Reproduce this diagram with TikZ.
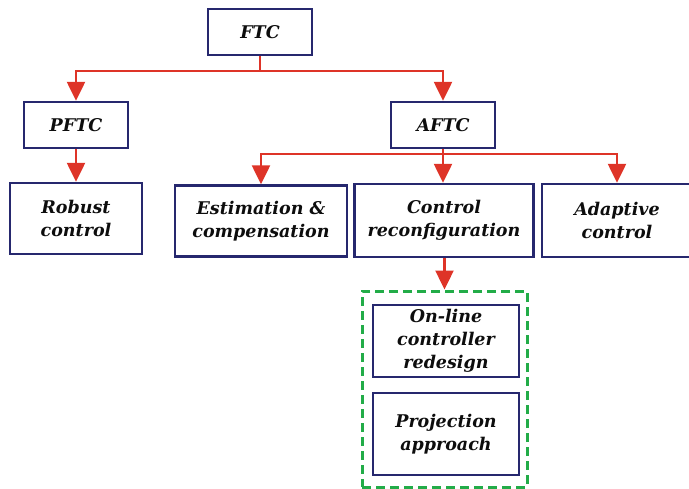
\documentclass[tikz,border=0pt]{standalone}
\usepackage{fontspec}
\setmainfont{DejaVu Serif}
\usetikzlibrary{arrows.meta}
\definecolor{boxblue}{RGB}{38,40,110}
\definecolor{linkred}{RGB}{222,52,40}
\definecolor{groupgreen}{RGB}{34,172,72}
\tikzset{
  box/.style={draw=boxblue, line width=2.4pt, fill=white, align=center,
    font=\fontsize{17.5}{23}\selectfont\bfseries\itshape, text=black!95, inner sep=0pt},
  link/.style={draw=linkred, line width=2.4pt,
    -{Triangle[width=18pt,length=19pt]}},
  stem/.style={draw=linkred, line width=2.4pt},
  group/.style={draw=groupgreen, line width=3pt, dash pattern=on 9pt off 5pt}
}
\begin{document}
\begin{tikzpicture}[x=1pt,y=-1pt]
  \useasboundingbox (0,0) rectangle (689,488);
  \begin{scope}
  \clip (0,0) rectangle (689,488);
  % tree nodes
  \node[box, minimum width=104pt, minimum height=46pt] (ftc)  at (260,32)  {FTC};
  \node[box, minimum width=104pt, minimum height=46pt] (pftc) at (76,125)  {PFTC};
  \node[box, minimum width=104pt, minimum height=46pt] (aftc) at (443,125) {AFTC};
  \node[box, minimum width=132pt, minimum height=71pt] (rob)  at (76,218.5) {Robust\\control};
  \node[box, minimum width=172pt, minimum height=71pt] (est)  at (261,221) {Estimation \&\\compensation};
  \node[box, minimum width=179pt, minimum height=73pt] (rec)  at (444,220.5) {Control\\reconfiguration};
  \node[box, minimum width=150pt, minimum height=73pt] (ada)  at (617,220.5) {Adaptive\\control};
  % grouped redesign methods
  \node[group, minimum width=165pt, minimum height=196pt] (grp) at (444.5,389) {};
  \node[box, minimum width=146pt, minimum height=72pt] (onl) at (446,341) {On-line\\controller\\redesign};
  \node[box, minimum width=146pt, minimum height=82pt] (prj) at (446,434) {Projection\\approach};
  % connectors
  \coordinate (j1) at (260,71);
  \coordinate (j2) at (443,154);
  \draw[stem] (ftc.south) -- (j1);
  \draw[link] (j1) -| (pftc.north);
  \draw[link] (j1) -| (aftc.north);
  \draw[link] (pftc.south) -- (rob.north);
  \draw[stem] (aftc.south) -- (j2);
  \draw[link] (j2) -| (est.north);
  \draw[link] (j2) -- (j2 |- rec.north);
  \draw[link] (j2) -| (ada.north);
  \draw[link] (rec.south -| grp.north) -- (grp.north);
  \end{scope}
\end{tikzpicture}
\end{document}
